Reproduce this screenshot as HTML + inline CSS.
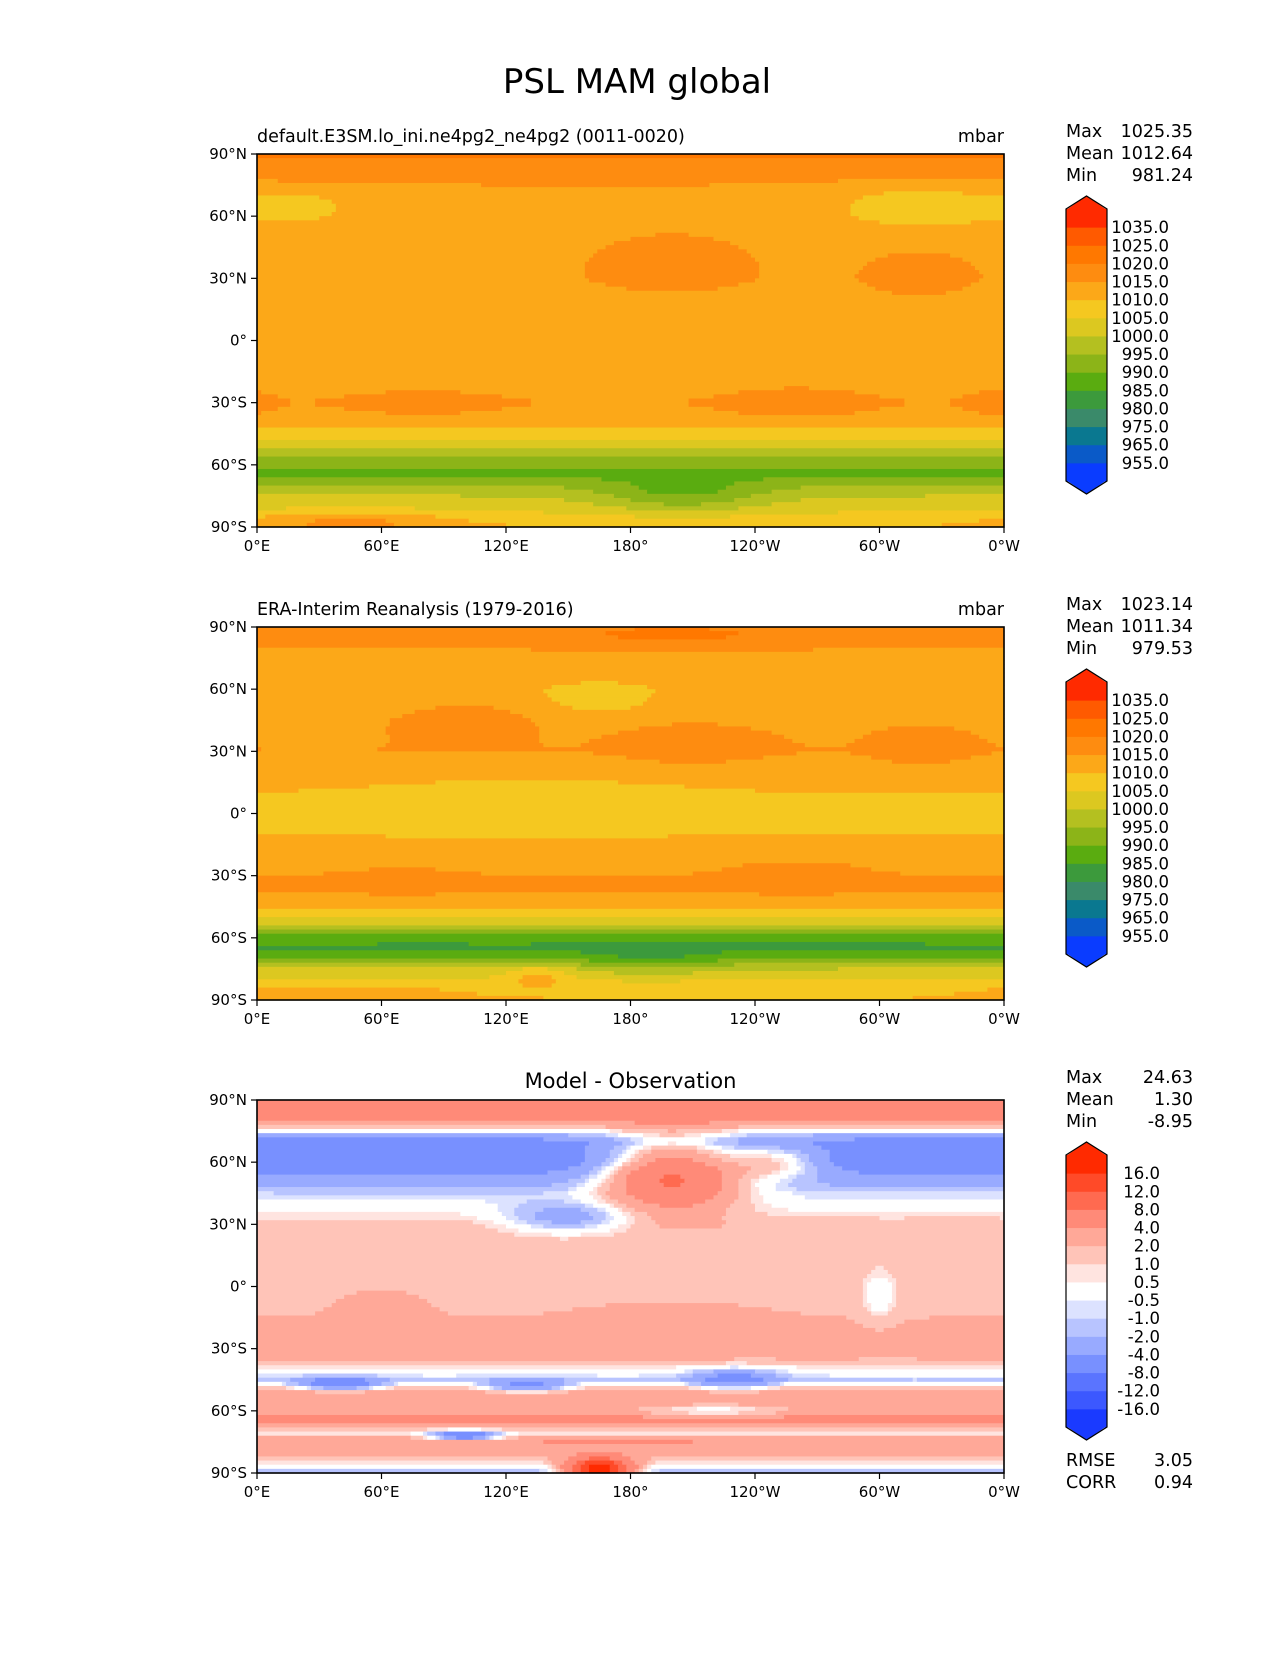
<!DOCTYPE html>
<html><head><meta charset="utf-8"><title>PSL MAM global</title>
<style>body{margin:0;background:#fff}svg text{font-family:"DejaVu Sans","Liberation Sans",sans-serif;fill:#000}</style>
</head><body>
<svg id="fig" width="1275" height="1650" viewBox="0 0 1275 1650" xmlns="http://www.w3.org/2000/svg">
<rect width="1275" height="1650" fill="#fff"/>
<text x="637" y="93" font-size="34" text-anchor="middle">PSL MAM global</text>
</svg>
<script>
// ---- data ----
const pslLevels=[955,965,975,980,985,990,995,1000,1005,1010,1015,1020,1025,1035];
const pslColors=["#0a3cff","#0a5ac8","#0a7890","#3a8a6a","#3c9a3c","#5aac10","#8cb418","#b4c020","#dcc820","#f5c820","#fca818","#fe8c10","#ff7800","#ff5a00","#ff2a00"];
const diffLevels=[-16,-12,-8,-4,-2,-1,-0.5,0.5,1,2,4,8,12,16];
const diffColors=["#1a3aff","#3c58ff","#5a74ff","#7890ff","#98aaff","#b8c4ff","#dce2ff","#ffffff","#ffe4e0","#ffc4b8","#ffa898","#ff8a78","#ff6a50","#ff4a28","#ff2a00"];
const profLats=[90,80,70,60,45,30,15,5,0,-10,-15,-25,-30,-35,-40,-45,-50,-55,-60,-65,-70,-75,-80,-90];
const modelProfile=[1021,1017,1013,1012,1013,1014,1012,1011,1011,1011,1012,1014,1015,1014,1012,1008,1003,997,991,989,995,1000,1003,1010];
const obsProfile=[1017,1015,1013,1011,1014,1015,1011,1009,1009,1010,1011,1014,1015,1016,1014,1011,1005,997,988,983,990,1000,1005,1010];
const diffProfile=[5,4,-5,-6,-1,1.5,1.5,1.5,1.5,1.8,2,2.5,3,2,0.3,-1,2.5,4,3,6,0,4,3,-2];
// blobs: [lon, lat, delta, lonRadius, latRadius]
const modelBlobs=[[200,38,6,35,14],[319,32,5,25,11],[320,66,-5,40,12],[20,65,-4,25,8],[260,-30,4,30,7],[80,-30,4,30,5],[355,-30,4,12,5],[205,-75,-10,40,8],[45,-87,8,50,5]];
const obsBlobs=[[210,33,5,30,8],[320,32,5,20,8],[200,86,5,60,5],[165,55,-5,25,8],[100,45,4,30,10],[70,-33,4,25,5],[260,-30,3,30,8],[190,-72,-6,30,6],[40,-86,5,60,5],[135,-78,8,15,6],[130,5,-3,70,12]];
const diffBlobs=[[200,55,12,32,16],[250,60,6,25,8],[150,33,-4,30,7],[40,-47,-7,20,3],[130,-48,-6,20,3],[230,-45,-5,20,5],[220,-60,-3,40,4],[165,-88,20,15,5],[100,-72,-9,15,2],[300,-5,-2,8,12],[200,-20,1.5,40,10],[60,-10,1,20,10]];
const latTicks=["90°N","60°N","30°N","0°","30°S","60°S","90°S"];
const lonTicks=["0°E","60°E","120°E","180°","120°W","60°W","0°W"];
const panels=[
 {name:"model",sub:"default.E3SM.lo_ini.ne4pg2_ne4pg2 (0011-0020)",unit:"mbar",prof:modelProfile,blobs:modelBlobs,lev:pslLevels,col:pslColors,stats:[["Max","1025.35"],["Mean","1012.64"],["Min","981.24"]],fmt:v=>v.toFixed(1)},
 {name:"obs",sub:"ERA-Interim Reanalysis (1979-2016)",unit:"mbar",prof:obsProfile,blobs:obsBlobs,lev:pslLevels,col:pslColors,stats:[["Max","1023.14"],["Mean","1011.34"],["Min","979.53"]],fmt:v=>v.toFixed(1)},
 {name:"diff",sub:"Model - Observation",unit:"",prof:diffProfile,blobs:diffBlobs,lev:diffLevels,col:diffColors,stats:[["Max","24.63"],["Mean","1.30"],["Min","-8.95"]],fmt:v=>v.toFixed(1)}
];
// ---- render ----
const NS="http://www.w3.org/2000/svg";
const svg=document.getElementById("fig");
function mk(t,a,p){const e=document.createElementNS(NS,t);for(const k in a)e.setAttribute(k,a[k]);(p||svg).appendChild(e);return e;}
const X0=257,W=747,H=373;
function interp(lat,prof){for(let i=0;i<profLats.length-1;i++){const a=profLats[i],b=profLats[i+1];if(lat<=a&&lat>=b){const t=(a-lat)/(a-b);return prof[i]+(prof[i+1]-prof[i])*t;}}return prof[prof.length-1];}
function value(lon,lat,p){let v=interp(lat,p.prof);for(const b of p.blobs){let dl=Math.abs(lon-b[0]);if(dl>180)dl=360-dl;const d=(dl/b[3])**2+((lat-b[1])/b[4])**2;v+=b[2]*Math.exp(-d);}return v;}
function colorIdx(v,lev){let i=0;while(i<lev.length&&v>=lev[i])i++;return i;}
panels.forEach((p,pi)=>{
 const Y0=154+pi*473;
 const g=mk("g",{});
 
 
 const sx=lon=>X0+lon/360*W, sy=lat=>Y0+(90-lat)/180*H;
 const step=2;
 const field=mk("g",{},g);
 
 
 for(let lat=90;lat>-90;lat-=step){
  let runStart=0,runC=-1;
  for(let lon=0;lon<=360;lon+=step){
   const c=lon<360?colorIdx(value(lon+1,lat-1,p),p.lev):-2;
   if(c!==runC){
    if(runC>=0){const r=mk("rect",{x:sx(runStart),y:sy(lat),width:sx(lon)-sx(runStart)+0.6,height:sy(lat-step)-sy(lat)+0.6,fill:p.col[runC]},field);
     
     }
    runStart=lon;runC=c;}
  }
 }
 const fr=mk("rect",{x:X0,y:Y0,width:W,height:H,fill:"none",stroke:"#000","stroke-width":1.6},g);
 
 
 latTicks.forEach((t,i)=>{const y=Y0+i*H/6;mk("line",{x1:X0-6,x2:X0,y1:y,y2:y,stroke:"#000","stroke-width":1.2},g);
  const tx=mk("text",{x:X0-10,y:y+5,"font-size":15,"text-anchor":"end"},g);tx.textContent=t;
  
  });
 lonTicks.forEach((t,i)=>{const x=X0+i*W/6;mk("line",{x1:x,x2:x,y1:Y0+H,y2:Y0+H+6,stroke:"#000","stroke-width":1.2},g);
  const tx=mk("text",{x:x,y:Y0+H+24,"font-size":15,"text-anchor":"middle"},g);tx.textContent=t;
  
  });
 let st;
 if(pi<2){st=mk("text",{x:X0,y:Y0-12,"font-size":17.5},g);
  const u=mk("text",{x:X0+W,y:Y0-12,"font-size":17.5,"text-anchor":"end"},g);u.textContent=p.unit;
  
  }
 else st=mk("text",{x:X0+W/2,y:Y0-12,"font-size":21,"text-anchor":"middle"},g);
 st.textContent=p.sub;
 
 
 p.stats.forEach((s,i)=>{const y=Y0-17+i*22;
  const a=mk("text",{x:1066,y:y,"font-size":17.5},g);a.textContent=s[0];
  
  
  const b=mk("text",{x:1193,y:y,"font-size":17.5,"text-anchor":"end"},g);b.textContent=s[1];
  
  });
 // colorbar
 const cb=mk("g",{},g);
 
 
 const cx0=1066,cx1=1107,top=Y0+55,n=p.col.length,bh=272/n,bot=top+272;
 mk("polygon",{points:`${cx0},${top+1} ${(cx0+cx1)/2},${top-13} ${cx1},${top+1}`,fill:p.col[n-1]},cb);
 mk("polygon",{points:`${cx0},${bot-1} ${(cx0+cx1)/2},${bot+13} ${cx1},${bot-1}`,fill:p.col[0]},cb);
 for(let i=0;i<n;i++){const y=bot-(i+1)*bh;mk("rect",{x:cx0,y:y,width:cx1-cx0,height:bh+0.5,fill:p.col[i]},cb);}
 mk("polygon",{points:`${cx0},${top} ${(cx0+cx1)/2},${top-13} ${cx1},${top} ${cx1},${bot} ${(cx0+cx1)/2},${bot+13} ${cx0},${bot}`,fill:"none",stroke:"#000","stroke-width":1.2},cb);
 p.lev.forEach((l,i)=>{const y=bot-(i+1)*bh;
  const t=mk("text",{x:pi<2?1169:1160,y:y+6,"font-size":16.5,"text-anchor":"end"},cb);t.textContent=p.fmt(l);
  
  });
 if(pi==2){[["RMSE","3.05"],["CORR","0.94"]].forEach((s,i)=>{const y=1466+i*22;
  const a=mk("text",{x:1066,y:y,"font-size":17.5},g);a.textContent=s[0];
  
  
  const b=mk("text",{x:1193,y:y,"font-size":17.5,"text-anchor":"end"},g);b.textContent=s[1];
  
  });}
});
</script>
</body></html>
